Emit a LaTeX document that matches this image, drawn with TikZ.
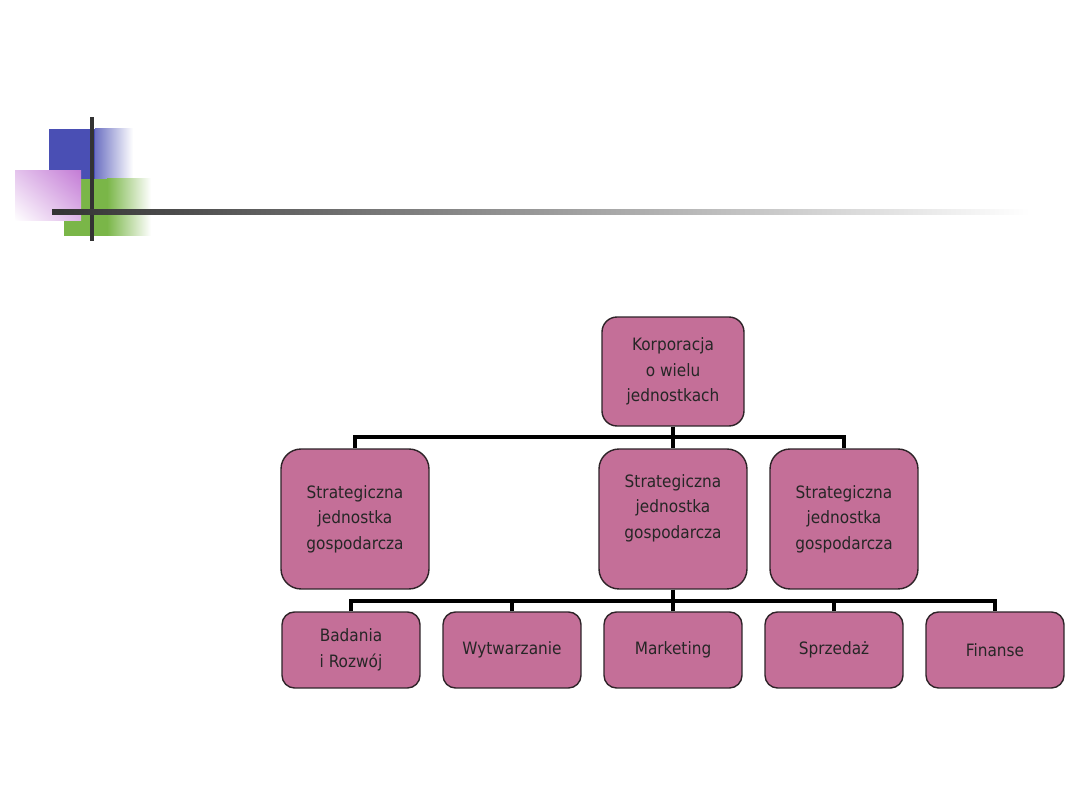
\documentclass[tikz,border=0pt]{standalone}
\usepackage{fontspec}
\usepackage{xcolor}
\usepackage{tikz}
\usetikzlibrary{positioning,shadings}
\newfontfamily\boxfont[FakeStretch=0.9]{DejaVu Sans}
\definecolor{mauve}{HTML}{C46F98}
\definecolor{edge}{HTML}{2E2328}
\definecolor{decoblue}{HTML}{4A4FB4}
\definecolor{decogreen}{HTML}{7AB648}
\definecolor{decoviolet}{HTML}{C47DD6}
\definecolor{decodark}{HTML}{333333}
\tikzset{
  unit/.style={draw=edge,line width=0.8pt,fill=mauve,align=center,inner sep=0pt,text=black!85,font=\boxfont\fontsize{9.7}{14.5}\selectfont},
  corp/.style={unit,rounded corners=0.3cm,minimum width=2.84cm,minimum height=2.18cm},
  sbu/.style={unit,rounded corners=0.4cm,minimum width=2.96cm,minimum height=2.8cm},
  func/.style={unit,rounded corners=0.25cm,minimum width=2.76cm,minimum height=1.52cm},
  link/.style={line width=2pt,draw=black}
}

\begin{document}
\begin{tikzpicture}[x=0.02cm,y=-0.02cm]
  \useasboundingbox[fill=white] (0,0) rectangle (1080,810);
  % slide ornament
  \fill[decoblue] (49,129) rectangle (95,179);
  \shade[left color=decoblue!80,right color=white] (95,129) rectangle (133,179);
  \fill[decogreen] (64,179) rectangle (107,236);
  \shade[left color=decogreen,right color=white] (107,179) rectangle (151,236);
  \shade[upper right=decoviolet,lower left=white,upper left=decoviolet!45,lower right=decoviolet!55] (15,171) rectangle (81,221);
  \fill[decodark] (90,117) rectangle (94,241);
  \shade[left color=decodark,right color=white] (52,210) rectangle (1030,215);

  % chart
  \node[corp] (corp) at (673,371.5) {Korporacja\\o wielu\\jednostkach};
  \node[sbu] (sbuL) at (355,519) {Strategiczna\\jednostka\\gospodarcza};
  \node[sbu] (sbuM) at (673,519) {Strategiczna\\jednostka\\gospodarcza\\\mbox{}};
  \node[sbu] (sbuR) at (844,519) {Strategiczna\\jednostka\\gospodarcza};
  \foreach \x/\name/\txt in {351/rd/{Badania\\ i Rozwój},512/prod/Wytwarzanie,673/mkt/Marketing,834/sale/Sprzedaż,995/fin/Finanse}
    \node[func] (\name) at (\x,650) {\txt};

  \coordinate (busA) at (673,437);
  \coordinate (busB) at (673,601);
  \draw[link] (corp.south) -- (busA);
  \draw[link] (sbuL.north) |- (busA) -| (sbuR.north);
  \draw[link] (busA) -- (sbuM.north);
  \draw[link] (sbuM.south) -- (busB);
  \draw[link] (rd.north) |- (busB) -| (fin.north);
  \foreach \name in {prod,mkt,sale}
    \draw[link] (\name.north) -- (\name.north |- busB);
\end{tikzpicture}
\end{document}
